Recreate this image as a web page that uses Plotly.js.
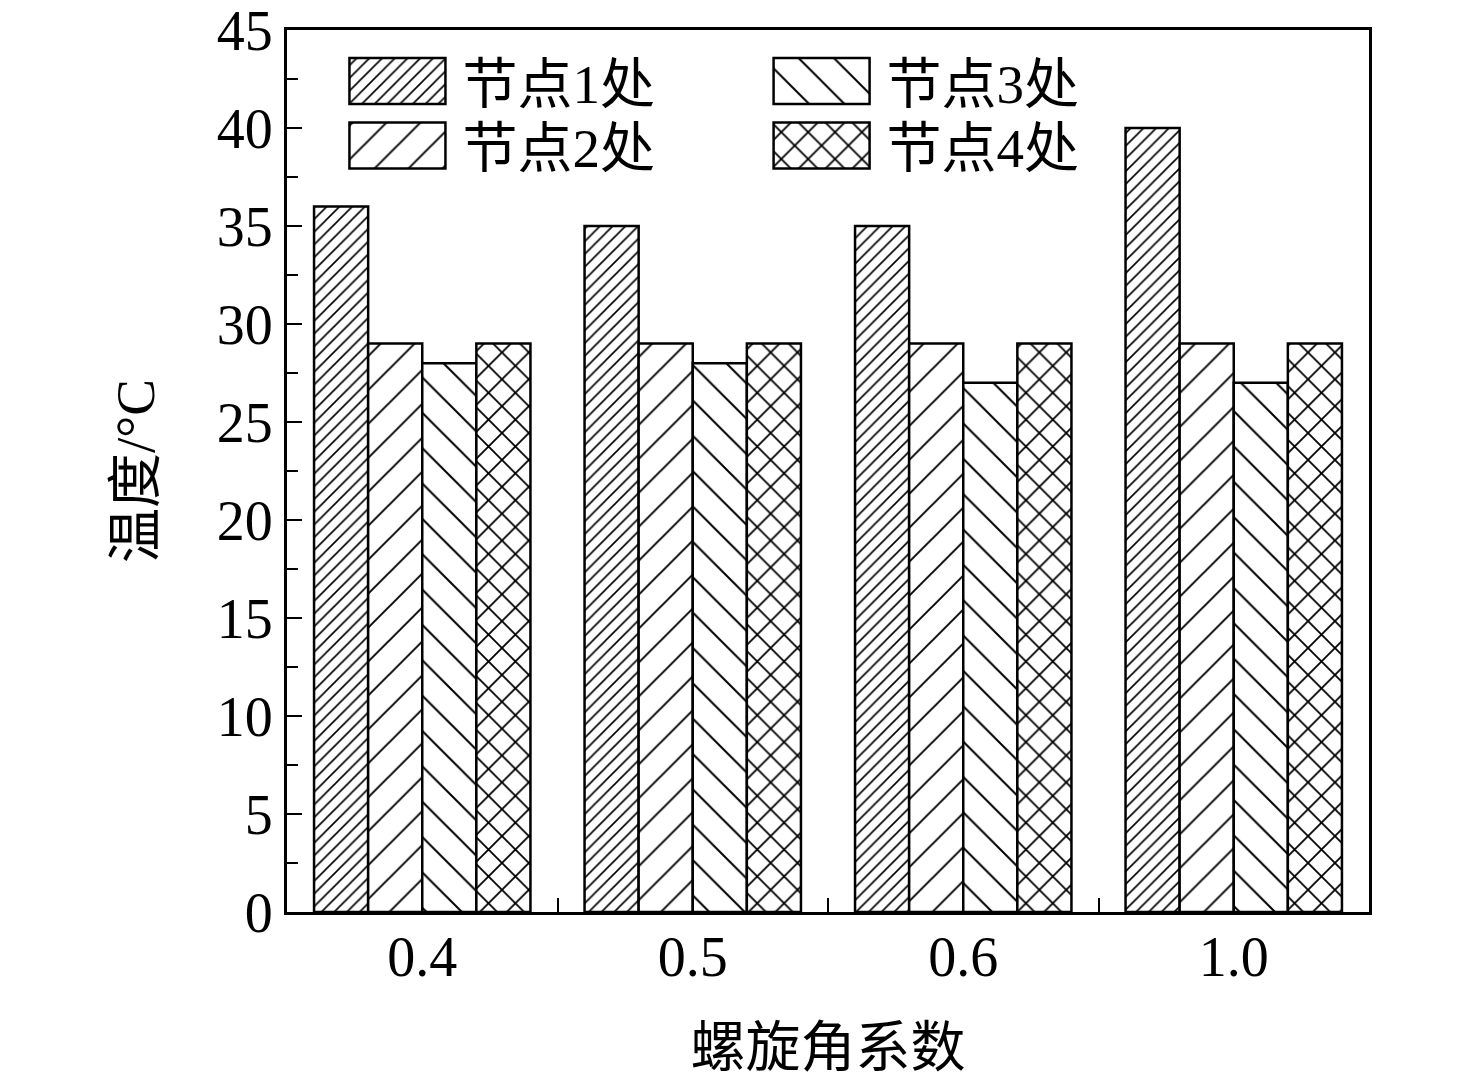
<!DOCTYPE html>
<html>
<head>
<meta charset="utf-8">
<script src="https://cdn.plot.ly/plotly-3.0.1.min.js"></script>
<style>
body { margin: 0; background: #fff; }
#chart { width: 1476px; height: 1078px; }
</style>
</head>
<body>
<div id="chart"></div>
<script>
// Chart data.
const categories = ['0.4', '0.5', '0.6', '1.0'];
const node1 = [36, 35, 35, 40];
const node2 = [29, 29, 29, 29];
const node3 = [28, 28, 27, 27];
const node4 = [29, 29, 29, 29];
const seriesNames = ['节点1处', '节点2处', '节点3处', '节点4处'];
const yTicks = [0, 5, 10, 15, 20, 25, 30, 35, 40, 45];

const FONT = 'Liberation Serif, "Times New Roman", "Noto Sans CJK SC", serif';
const xIdx = categories.map((c, i) => i);

// One bar trace per node, hatched like the original.
function makeBar(values, name, shape, size, solidity, legend) {
return {
type: 'bar',
x: xIdx,
y: values,
name: name,
legend: legend,
marker: {
color: 'white',
line: {color: 'black', width: 2.5},
pattern: {
shape: shape,
size: size,
solidity: solidity,
fgcolor: 'black',
fgopacity: 1,
bgcolor: 'white',
fillmode: 'overlay'
}
}
};
}

let data = [
makeBar(node1, seriesNames[0], '/', 9, 0.18, 'legend'),
makeBar(node2, seriesNames[1], '/', 24, 0.08, 'legend'),
makeBar(node3, seriesNames[2], '\\', 25, 0.08, 'legend2'),
makeBar(node4, seriesNames[3], 'x', 19, 0.18, 'legend2')
];

let legendStyle = {
font: {family: FONT, size: 55, color: 'black'},
bgcolor: 'rgba(0,0,0,0)',
borderwidth: 0,
xanchor: 'left',
yanchor: 'top',
y: 0.99,
tracegroupgap: 0,
itemwidth: 120
};

let layout = {
width: 1476,
height: 1078,
margin: {l: 287, r: 107, t: 30, b: 166},
paper_bgcolor: 'white',
plot_bgcolor: 'white',
barmode: 'group',
bargap: 0.2,
bargroupgap: 0,
font: {family: FONT, color: 'black'},
showlegend: true,
legend: Object.assign({}, legendStyle, {x: 0.042}),
legend2: Object.assign({}, legendStyle, {x: 0.434}),
xaxis: {
range: [-0.5, 3.5],
tickmode: 'array',
tickvals: xIdx,
ticktext: categories,
ticks: 'inside',
ticklen: 14,
tickwidth: 2,
tickcolor: 'black',
ticklabelstandoff: -6,
minor: {dtick: 0.5, tick0: 0.5, ticks: 'inside', ticklen: 14, tickwidth: 2, tickcolor: 'black'},
showline: true,
linewidth: 3,
linecolor: 'black',
mirror: true,
showgrid: false,
zeroline: false,
tickfont: {family: FONT, size: 56},
title: {text: '螺旋角系数', font: {family: FONT, size: 55}, standoff: 44}
},
yaxis: {
range: [0, 45],
tickmode: 'array',
tickvals: yTicks,
ticks: 'inside',
ticklen: 15,
tickwidth: 2,
tickcolor: 'black',
ticklabeloverflow: 'allow',
minor: {dtick: 2.5, ticks: 'inside', ticklen: 11, tickwidth: 2, tickcolor: 'black'},
showline: true,
linewidth: 3,
linecolor: 'black',
mirror: true,
showgrid: false,
zeroline: false,
tickfont: {family: FONT, size: 56},
title: {text: '温度/°C', font: {family: FONT, size: 55}, standoff: 45}
}
};

let config = {displayModeBar: false, responsive: false};

// Legend touch-ups: big swatches using the same hatch as the bars,
// and rows packed a little closer like the original.
Plotly.newPlot('chart', data, layout, config).then(function(gd) {
let fills = {};
gd.querySelectorAll('.trace.bars').forEach(function(g) {
let idx = g.__data__[0].trace.index;
let p = g.querySelector('.point path');
if (p) fills[idx] = p.style.fill;
});
gd.querySelectorAll('g.legend, g.legend2').forEach(function(lg) {
lg.querySelectorAll('.traces').forEach(function(item, row) {
let idx = item.__data__[0].trace.index;
let p = item.querySelector('.legendpoints path');
if (p) {
p.setAttribute('d', 'M48,23H-48V-23H48Z');
if (fills[idx]) p.style.fill = fills[idx];
p.style.strokeWidth = '2.5px';
}
if (row > 0) {
let m = /translate\(([^,]+),\s*([^)]+)\)/.exec(item.getAttribute('transform') || '');
if (m) item.setAttribute('transform', 'translate(' + m[1] + ',' + (parseFloat(m[2]) - 10 * row) + ')');
}
});
});
});
</script>
</body>
</html>
